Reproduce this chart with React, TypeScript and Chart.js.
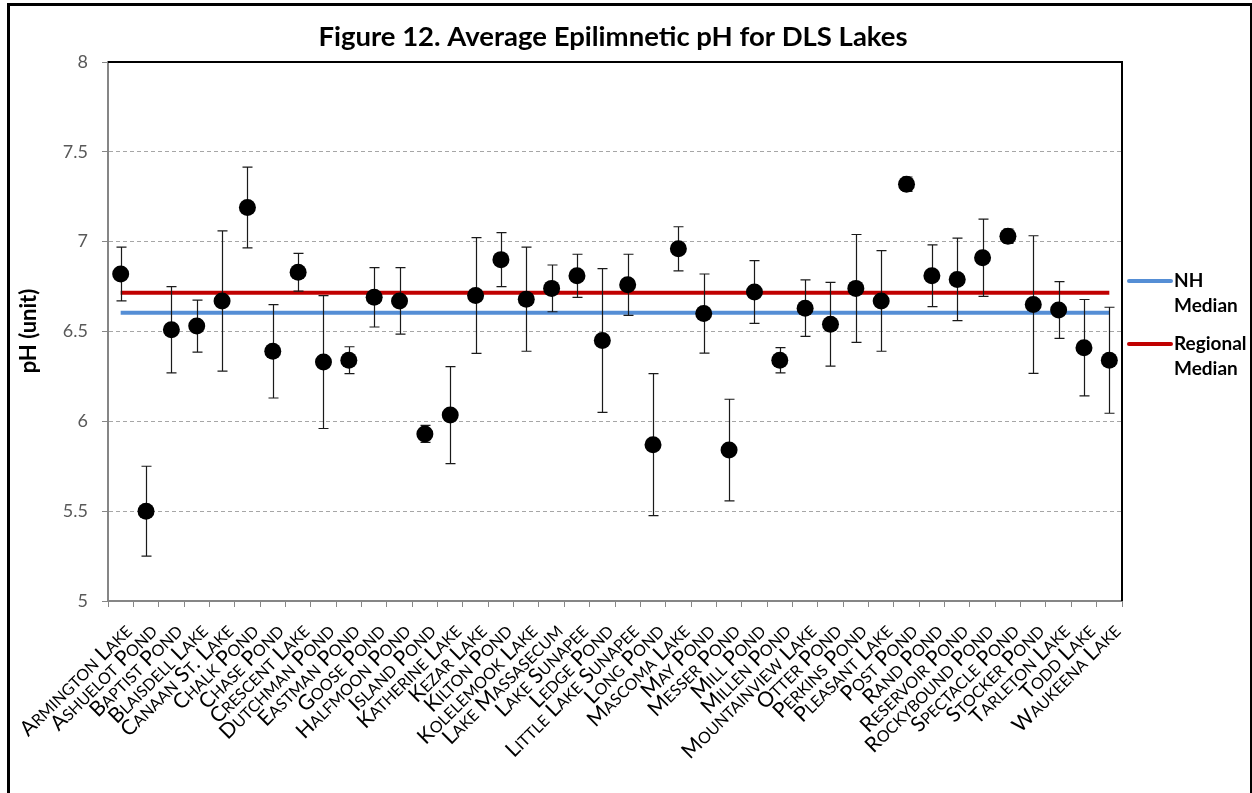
import React, { useEffect, useRef } from "react";
import { Chart, registerables } from "chart.js";

Chart.register(...registerables);

// Lakes in the DLS program, in plotted order
const lakes = [
  "Armington Lake", "Ashuelot Pond", "Baptist Pond", "Blaisdell Lake", "Canaan St. Lake",
  "Chalk Pond", "Chase Pond", "Crescent Lake", "Dutchman Pond", "Eastman Pond",
  "Goose Pond", "Halfmoon Pond", "Island Pond", "Katherine Lake", "Kezar Lake",
  "Kilton Pond", "Kolelemook Lake", "Lake Massasecum", "Lake Sunapee", "Ledge Pond",
  "Little Lake Sunapee", "Long Pond", "Mascoma Lake", "May Pond", "Messer Pond",
  "Mill Pond", "Millen Pond", "Mountainview Lake", "Otter Pond", "Perkins Pond",
  "Pleasant Lake", "Post Pond", "Rand Pond", "Reservoir Pond", "Rockybound Pond",
  "Spectacle Pond", "Stocker Pond", "Tarleton Lake", "Todd Lake", "Waukeena Lake",
];

// Average epilimnetic pH per lake
const meanPH = [
  6.82, 5.5, 6.51, 6.53, 6.67,
  7.19, 6.39, 6.83, 6.33, 6.34,
  6.69, 6.67, 5.93, 6.035, 6.7,
  6.9, 6.68, 6.74, 6.81, 6.45,
  6.76, 5.87, 6.96, 6.6, 5.84,
  6.72, 6.34, 6.63, 6.54, 6.74,
  6.67, 7.32, 6.81, 6.79, 6.91,
  7.03, 6.65, 6.62, 6.41, 6.34,
];

// Error bar half-width (pH units)
const errPH = [
  0.15, 0.25, 0.24, 0.145, 0.39,
  0.225, 0.26, 0.105, 0.37, 0.075,
  0.165, 0.185, 0.047, 0.27, 0.322,
  0.15, 0.29, 0.13, 0.12, 0.4,
  0.17, 0.395, 0.123, 0.22, 0.283,
  0.175, 0.07, 0.157, 0.233, 0.3,
  0.28, 0.04, 0.172, 0.23, 0.215,
  0.04, 0.383, 0.158, 0.268, 0.295,
];

const NH_MEDIAN = 6.605;
const REGIONAL_MEDIAN = 6.715;

const yMin = 5;
const yMax = 8;
const yStep = 0.5;

const chartTitle = "Figure 12. Average Epilimnetic pH for DLS Lakes";
const yAxisTitle = "pH (unit)";
const nhLabel = ["NH", "Median"];
const regionalLabel = ["Regional", "Median"];

const NH_COLOR = "#558ED5";
const REGIONAL_COLOR = "#C00000";
const AXIS_GRAY = "#868686";
const TEXT_FONT = "Lato, 'Open Sans', sans-serif";
const LABEL_FONT = "Lato, 'Open Sans', sans-serif";
const LABEL_CAP = 21;
const LABEL_SMALL = 16;

// Draws vertical error bars with caps underneath the mean markers
const errorBarPlugin = {
  id: "errorBars",
  beforeDatasetDraw(chart: any, args: any) {
    if (args.index !== 0) return;
    const { ctx, scales } = chart;
    const xs = scales.x;
    const ys = scales.y;
    ctx.save();
    ctx.strokeStyle = "#1a1a1a";
    ctx.lineWidth = 1.2;
    meanPH.forEach((v, i) => {
      const e = errPH[i];
      const x = Math.round(xs.getPixelForValue(i)) + 0.5;
      const yTop = ys.getPixelForValue(v + e);
      const yBot = ys.getPixelForValue(v - e);
      ctx.beginPath();
      ctx.moveTo(x, yTop);
      ctx.lineTo(x, yBot);
      ctx.moveTo(x - 5, yTop);
      ctx.lineTo(x + 5, yTop);
      ctx.moveTo(x - 5, yBot);
      ctx.lineTo(x + 5, yBot);
      ctx.stroke();
    });
    ctx.restore();
  },
};

// Splits a label into small-caps runs: capitals and spaces at full size, lowercase as reduced capitals
function smallCapsRuns(text: string) {
  const runs: { t: string; small: boolean }[] = [];
  for (const ch of text) {
    const small = ch !== ch.toUpperCase();
    const t = ch.toUpperCase();
    const last = runs[runs.length - 1];
    if (last && last.small === small) last.t += t;
    else runs.push({ t, small });
  }
  return runs;
}

// Rotated small-caps category labels under the x axis
const categoryLabelPlugin = {
  id: "categoryLabels",
  afterDraw(chart: any) {
    const { ctx, scales, chartArea } = chart;
    const xs = scales.x;
    ctx.save();
    ctx.fillStyle = "#000";
    ctx.textBaseline = "alphabetic";
    ctx.textAlign = "left";
    const capFont = `${LABEL_CAP}px ${LABEL_FONT}`;
    const smallFont = `${LABEL_SMALL}px ${LABEL_FONT}`;
    lakes.forEach((name, i) => {
      const runs = smallCapsRuns(name);
      let total = 0;
      const widths = runs.map((r) => {
        ctx.font = r.small ? smallFont : capFont;
        const w = ctx.measureText(r.t).width;
        total += w;
        return w;
      });
      const x = xs.getPixelForValue(i);
      ctx.save();
      ctx.translate(x + 7, chartArea.bottom + 26);
      ctx.rotate(-Math.PI / 4);
      let cx = -total;
      runs.forEach((r, k) => {
        ctx.font = r.small ? smallFont : capFont;
        ctx.fillText(r.t, cx, LABEL_CAP * 0.36);
        cx += widths[k];
      });
      ctx.restore();
    });
    ctx.restore();
  },
};

// Plot frame, chart title, axis title and legend
const decorPlugin = {
  id: "decor",
  afterDraw(chart: any) {
    const { ctx, chartArea } = chart;
    const { left, right, top } = chartArea;
    ctx.save();

    // black top and right edges of the plot area
    ctx.strokeStyle = "#000";
    ctx.lineWidth = 2;
    ctx.beginPath();
    ctx.moveTo(left, top);
    ctx.lineTo(right, top);
    ctx.lineTo(right, chartArea.bottom);
    ctx.stroke();

    // title
    ctx.fillStyle = "#000";
    ctx.font = `bold 27.5px ${TEXT_FONT}`;
    ctx.textAlign = "center";
    ctx.textBaseline = "middle";
    ctx.fillText(chartTitle, (left + right) / 2 - 2, 37);

    // y axis title
    ctx.save();
    ctx.translate(29, 331);
    ctx.rotate(-Math.PI / 2);
    ctx.font = `bold 22px ${TEXT_FONT}`;
    ctx.fillText(yAxisTitle, 0, 0);
    ctx.restore();

    // legend
    const drawEntry = (color: string, lines: string[], y: number) => {
      ctx.strokeStyle = color;
      ctx.lineWidth = 4;
      ctx.lineCap = "round";
      ctx.beginPath();
      ctx.moveTo(right + 7, y);
      ctx.lineTo(right + 49, y);
      ctx.stroke();
      ctx.fillStyle = "#000";
      ctx.font = `bold 19px ${TEXT_FONT}`;
      ctx.textAlign = "left";
      ctx.textBaseline = "middle";
      lines.forEach((t, k) => ctx.fillText(t, right + 52, y + k * 25));
    };
    drawEntry(NH_COLOR, nhLabel, 281);
    drawEntry(REGIONAL_COLOR, regionalLabel, 344);

    ctx.restore();
  },
};

export default function App() {
  const canvasRef = useRef<HTMLCanvasElement | null>(null);

  useEffect(() => {
    const canvas = canvasRef.current;
    if (!canvas) return;
    const chart = new Chart(canvas, {
      type: "line",
      data: {
        labels: lakes,
        datasets: [
          {
            label: "Average pH",
            data: meanPH,
            showLine: false,
            pointRadius: 8.5,
            pointBackgroundColor: "#000",
            pointBorderColor: "#000",
            pointBorderWidth: 0,
            order: 1,
          },
          {
            label: "NH Median",
            data: [
              { x: lakes[0], y: NH_MEDIAN },
              { x: lakes[lakes.length - 1], y: NH_MEDIAN },
            ],
            borderColor: NH_COLOR,
            borderWidth: 4,
            pointRadius: 0,
            order: 3,
          },
          {
            label: "Regional Median",
            data: [
              { x: lakes[0], y: REGIONAL_MEDIAN },
              { x: lakes[lakes.length - 1], y: REGIONAL_MEDIAN },
            ],
            borderColor: REGIONAL_COLOR,
            borderWidth: 4,
            pointRadius: 0,
            order: 2,
          },
        ] as any,
      },
      options: {
        responsive: false,
        animation: false,
        events: [],
        layout: { padding: { top: 62, right: 130, left: 0, bottom: 0 } },
        plugins: {
          legend: { display: false },
          title: { display: false },
          tooltip: { enabled: false },
        },
        scales: {
          x: {
            type: "category",
            offset: true,
            afterFit(scale: any) {
              scale.height = 192;
            },
            grid: {
              offset: true,
              drawOnChartArea: false,
              drawTicks: true,
              tickLength: 6,
              color: AXIS_GRAY,
            },
            border: { display: true, color: AXIS_GRAY, width: 2 },
            ticks: { display: false, autoSkip: false },
          },
          y: {
            min: yMin,
            max: yMax,
            afterFit(scale: any) {
              scale.width = 108;
            },
            ticks: {
              stepSize: yStep,
              padding: 14,
              color: "#595959",
              font: { family: TEXT_FONT, size: 18 },
              callback: (v: any) => String(v),
            },
            grid: {
              color: "#A6A6A6",
              lineWidth: 1,
              tickLength: 6,
              tickColor: AXIS_GRAY,
              tickBorderDash: [],
            },
            border: { display: true, color: AXIS_GRAY, width: 2, dash: [4, 3] },
          },
        },
      },
      plugins: [errorBarPlugin, categoryLabelPlugin, decorPlugin],
    } as any);
    return () => chart.destroy();
  }, []);

  return (
    <div style={{ position: "fixed", left: 0, top: 0, width: 1252, height: 793, overflow: "hidden", background: "#fff" }}>
      <div
        style={{
          position: "absolute",
          left: 7,
          top: 3,
          width: 1245,
          height: 830,
          boxSizing: "border-box",
          borderTop: "3px solid #000",
          borderLeft: "3px solid #000",
          borderRight: "2px solid #000",
        }}
      />
      <canvas ref={canvasRef} width={1252} height={793} style={{ position: "absolute", left: 0, top: 0 }} />
    </div>
  );
}
